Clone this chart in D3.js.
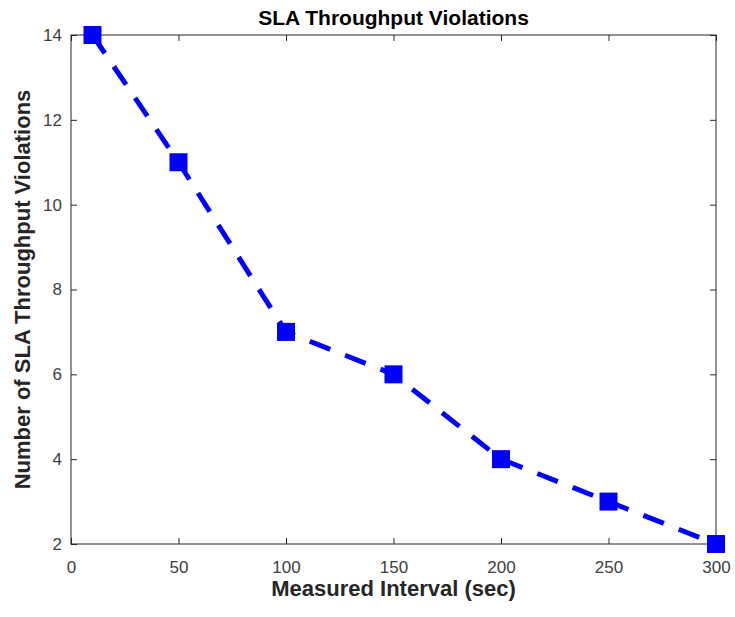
<!DOCTYPE html>
<html>
<head>
<meta charset="utf-8">
<script src="https://cdn.jsdelivr.net/npm/d3@7"></script>
<style>
  body { margin: 0; background: #fff; }
  text { font-family: "Liberation Sans", Arial, sans-serif; }
</style>
</head>
<body>
<div id="chart"></div>
<script>
const intervals = [10, 50, 100, 150, 200, 250, 300];
const violations = [14, 11, 7, 6, 4, 3, 2];
const xTicks = [0, 50, 100, 150, 200, 250, 300];
const yTicks = [2, 4, 6, 8, 10, 12, 14];

const width = 735;
const height = 617;
const margin = { top: 35, right: 19, bottom: 73, left: 71 };

const svg = d3.select("#chart")
  .append("svg")
  .attr("width", width)
  .attr("height", height);

const x = d3.scaleLinear()
  .domain([0, 300])
  .range([margin.left, width - margin.right]);

const y = d3.scaleLinear()
  .domain([2, 14])
  .range([height - margin.bottom, margin.top]);

const tickColor = "#262626";
const labelColor = "#404040";

// box
svg.append("rect")
  .attr("x", x(0))
  .attr("y", y(14))
  .attr("width", x(300) - x(0))
  .attr("height", y(2) - y(14))
  .attr("fill", "none")
  .attr("stroke", tickColor)
  .attr("stroke-width", 1);

function styleAxis(g) {
  g.attr("font-size", null).attr("font-family", null);
  g.select(".domain").remove();
  g.selectAll(".tick line").attr("stroke", tickColor);
  g.selectAll(".tick text")
    .attr("fill", labelColor)
    .style("font-size", "17px");
}

svg.append("g")
  .attr("transform", `translate(0,${y(2)})`)
  .call(d3.axisBottom(x).tickValues(xTicks).tickSizeInner(-6).tickSizeOuter(0).tickPadding(17))
  .call(styleAxis);

svg.append("g")
  .attr("transform", `translate(0,${y(14)})`)
  .call(d3.axisTop(x).tickValues(xTicks).tickSizeInner(-6).tickSizeOuter(0).tickFormat(""))
  .call(styleAxis);

svg.append("g")
  .attr("transform", `translate(${x(0)},0)`)
  .call(d3.axisLeft(y).tickValues(yTicks).tickSizeInner(-6).tickSizeOuter(0).tickPadding(9))
  .call(styleAxis);

svg.append("g")
  .attr("transform", `translate(${x(300)},0)`)
  .call(d3.axisRight(y).tickValues(yTicks).tickSizeInner(-6).tickSizeOuter(0).tickFormat(""))
  .call(styleAxis);

const points = intervals.map((v, i) => ({ x: v, y: violations[i] }));

svg.append("path")
  .datum(points)
  .attr("fill", "none")
  .attr("stroke", "#0000ff")
  .attr("stroke-width", 5)
  .attr("stroke-dasharray", "22,16")
  .attr("d", d3.line().x(d => x(d.x)).y(d => y(d.y)));

const m = 18;
svg.append("g")
  .selectAll("rect")
  .data(points)
  .join("rect")
  .attr("x", d => x(d.x) - m / 2)
  .attr("y", d => y(d.y) - m / 2)
  .attr("width", m)
  .attr("height", m)
  .attr("fill", "#0000ff");

svg.append("text")
  .attr("x", (x(0) + x(300)) / 2)
  .attr("y", 25)
  .attr("text-anchor", "middle")
  .style("font-size", "21px")
  .style("font-weight", "bold")
  .attr("fill", "#000")
  .text("SLA Throughput Violations");

svg.append("text")
  .attr("x", (x(0) + x(300)) / 2)
  .attr("y", 596)
  .attr("text-anchor", "middle")
  .style("font-size", "22px")
  .style("font-weight", "bold")
  .attr("fill", "#262626")
  .text("Measured Interval (sec)");

svg.append("text")
  .attr("transform", `translate(30,${(y(2) + y(14)) / 2}) rotate(-90)`)
  .attr("text-anchor", "middle")
  .style("font-size", "22px")
  .style("font-weight", "bold")
  .attr("fill", "#262626")
  .text("Number of SLA Throughput Violations");
</script>
</body>
</html>
